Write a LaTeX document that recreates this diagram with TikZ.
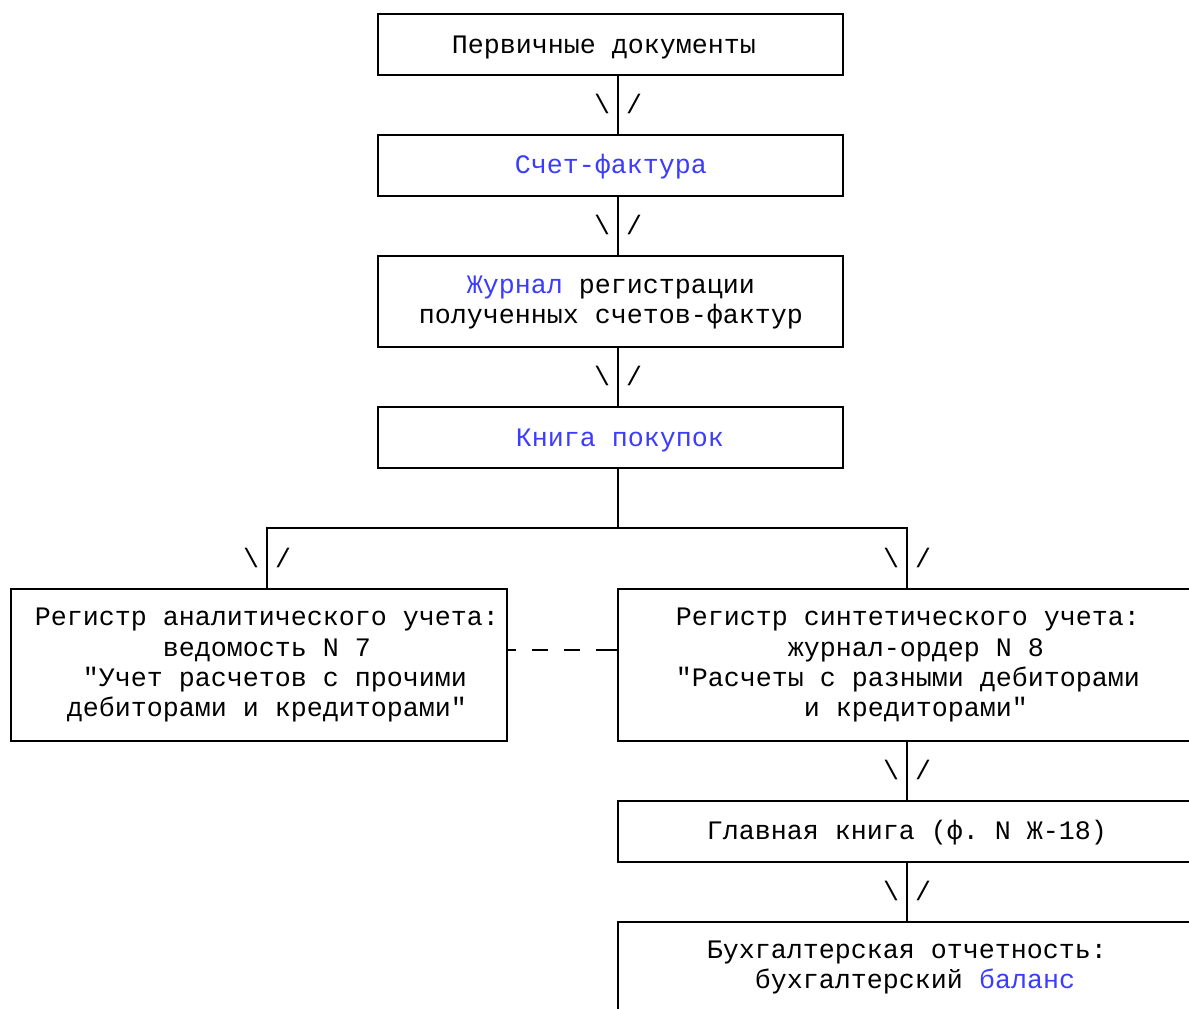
\documentclass[tikz,border=0pt]{standalone}
\usepackage{fontspec}
\setmonofont{Liberation Mono}
\definecolor{linkblue}{RGB}{60,60,255}
\newcommand{\bluetext}[1]{\textcolor{linkblue}{#1}}

\begin{document}
\begin{tikzpicture}[x=0.75pt,y=-0.75pt,line width=1.5pt,
  box/.style={draw,rectangle,inner sep=0pt,minimum width=348.75pt,minimum height=45.75pt},
  txt/.style={font={\ttfamily\fontsize{20}{22.7}\selectfont},align=center,inner sep=0pt,
    execute at begin node=\strut,execute at end node=\strut}]
\useasboundingbox (0,0) rectangle (1189,1009);
\clip (0,0) rectangle (1189,1009);
\coordinate (spine) at (618,0);
\coordinate (forkL) at (267,528);
% boxes
\node[box] (b1) at (610.5,44.5) {};
\node[box] (b2) at (610.5,165.5) {};
\node[box,minimum height=68.25pt] (b3) at (610.5,301.5) {};
\node[box] (b4) at (610.5,437.5) {};
\node[box,minimum width=372pt,minimum height=114pt] (bL) at (259,665) {};
\node[box,minimum width=433.5pt,minimum height=114pt] (bR) at (907,665) {};
\node[box,minimum width=433.5pt] (bG) at (907,831.5) {};
\node[box,minimum width=433.5pt,minimum height=68.25pt] (bB) at (907,967.5) {};
% texts
\node[txt] (t1) at (604,47) {Первичные документы};
\node[txt,text=linkblue] (t2) at (611,167) {Счет-фактура};
\node[txt] (t3) at (611,304) {\bluetext{Журнал} регистрации\\полученных счетов-фактур};
\node[txt,text=linkblue] (t4) at (620,440) {Книга покупок};
\node[txt] (tL) at (267,667) {Регистр аналитического учета:\\ведомость N 7\\\hphantom{x}"Учет расчетов с прочими\\дебиторами и кредиторами"};
\node[txt] (tR) at (908,667) {Регистр синтетического учета:\\\hphantom{x}журнал-ордер N 8\\"Расчеты с разными дебиторами\\\hphantom{x}и кредиторами"};
\node[txt] (tG) at (907,833) {Главная книга (ф. N Ж-18)};
\node[txt] (tB) at (907,969) {Бухгалтерская отчетность:\\\hphantom{x}бухгалтерский \bluetext{баланс}};
% connectors
\draw (b1.south -| spine) -- (b2.north -| spine);
\draw (b2.south -| spine) -- (b3.north -| spine);
\draw (b3.south -| spine) -- (b4.north -| spine);
\draw (b4.south -| spine) |- (forkL) -- (forkL |- bL.north);
\draw (forkL) -| (bR.north);
\draw (bR.south) -- (bG.north);
\draw (bG.south) -- (bB.north);
\draw[dash pattern=on 6pt off 12pt on 12pt off 12pt on 12pt off 12pt on 20pt] ([yshift=11.25pt]bL.east) -- ([yshift=11.25pt]bR.west);
% arrow marks
\foreach \x/\y [count=\i] in {618/105,618/226,618/377,267/559,907/559,907/771,907/892} {
  \node[txt] (bs\i) at (\x-16,\y+2) {\textbackslash};
  \node[txt] (sl\i) at (\x+16,\y+2) {/};
}
\end{tikzpicture}
\end{document}
